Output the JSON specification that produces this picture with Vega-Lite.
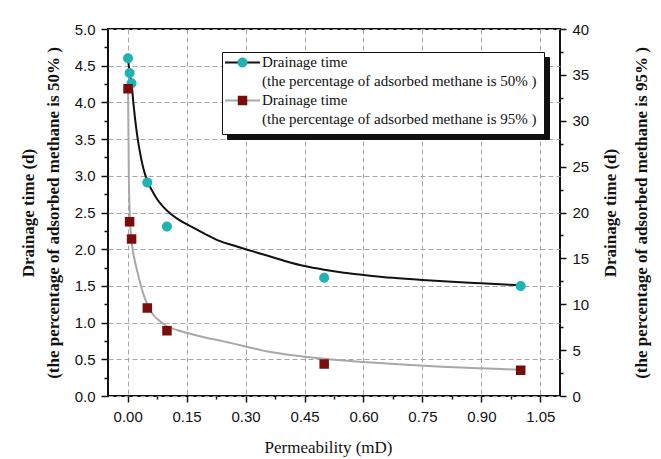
{
  "$schema": "https://vega.github.io/schema/vega-lite/v6.json",
  "width": 452,
  "height": 367,
  "autosize": {"type": "none"},
  "padding": {"left": 108, "top": 29, "right": 101, "bottom": 63},
  "background": "white",
  "config": {
    "view": {"stroke": "#111", "strokeWidth": 2},
    "style": {"guide-label": {"lineHeight": 19}},
    "axis": {
      "domain": false,
      "labelFont": "Liberation Sans",
      "labelFontSize": 15,
      "labelColor": "#111",
      "tickColor": "#111",
      "tickWidth": 1.5,
      "tickCount": 100,
      "titleFont": "Liberation Serif",
      "titleFontWeight": "bold",
      "titleFontSize": 17,
      "titleColor": "#111",
      "gridColor": "#a6a6a6",
      "gridDash": [5, 3],
      "gridWidth": 1,
      "labelOverlap": false
    },
    "legend": {
      "labelFont": "Liberation Serif",
      "labelFontSize": 15,
      "labelColor": "#111",
      "labelLimit": 600,
      "labelBaseline": "alphabetic",
      "labelOffset": 12,
      "symbolOffset": 6,
      "padding": 7,
      "rowPadding": 3,
      "symbolSize": 169,
      "symbolStrokeWidth": 2,
      "direction": "vertical",
      "orient": "none",
      "title": null
    }
  },
  "datasets": {
    "pts50": [
      {"perm": 0.001, "time": 4.6, "series": "s50"},
      {"perm": 0.005, "time": 4.4, "series": "s50"},
      {"perm": 0.01, "time": 4.26, "series": "s50"},
      {"perm": 0.05, "time": 2.91, "series": "s50"},
      {"perm": 0.1, "time": 2.31, "series": "s50"},
      {"perm": 0.5, "time": 1.61, "series": "s50"},
      {"perm": 1.0, "time": 1.5, "series": "s50"}
    ],
    "pts95": [
      {"perm": 0.001, "time": 33.5, "series": "s95"},
      {"perm": 0.005, "time": 19.0, "series": "s95"},
      {"perm": 0.01, "time": 17.1, "series": "s95"},
      {"perm": 0.05, "time": 9.6, "series": "s95"},
      {"perm": 0.1, "time": 7.1, "series": "s95"},
      {"perm": 0.5, "time": 3.5, "series": "s95"},
      {"perm": 1.0, "time": 2.8, "series": "s95"}
    ],
    "curve50": [
      {"perm": 0.001, "time": 4.6, "curve": "c50"},
      {"perm": 0.005, "time": 4.4, "curve": "c50"},
      {"perm": 0.01, "time": 4.26, "curve": "c50"},
      {"perm": 0.015, "time": 3.97, "curve": "c50"},
      {"perm": 0.023, "time": 3.6, "curve": "c50"},
      {"perm": 0.03, "time": 3.36, "curve": "c50"},
      {"perm": 0.04, "time": 3.1, "curve": "c50"},
      {"perm": 0.05, "time": 2.93, "curve": "c50"},
      {"perm": 0.062, "time": 2.8, "curve": "c50"},
      {"perm": 0.075, "time": 2.68, "curve": "c50"},
      {"perm": 0.09, "time": 2.58, "curve": "c50"},
      {"perm": 0.11, "time": 2.48, "curve": "c50"},
      {"perm": 0.125, "time": 2.42, "curve": "c50"},
      {"perm": 0.15, "time": 2.34, "curve": "c50"},
      {"perm": 0.175, "time": 2.27, "curve": "c50"},
      {"perm": 0.2, "time": 2.2, "curve": "c50"},
      {"perm": 0.235, "time": 2.11, "curve": "c50"},
      {"perm": 0.27, "time": 2.05, "curve": "c50"},
      {"perm": 0.3, "time": 2.0, "curve": "c50"},
      {"perm": 0.35, "time": 1.92, "curve": "c50"},
      {"perm": 0.4, "time": 1.84, "curve": "c50"},
      {"perm": 0.45, "time": 1.77, "curve": "c50"},
      {"perm": 0.5, "time": 1.72, "curve": "c50"},
      {"perm": 0.55, "time": 1.68, "curve": "c50"},
      {"perm": 0.6, "time": 1.65, "curve": "c50"},
      {"perm": 0.675, "time": 1.61, "curve": "c50"},
      {"perm": 0.75, "time": 1.58, "curve": "c50"},
      {"perm": 0.825, "time": 1.555, "curve": "c50"},
      {"perm": 0.9, "time": 1.535, "curve": "c50"},
      {"perm": 1.0, "time": 1.51, "curve": "c50"}
    ],
    "curve95": [
      {"perm": 0.001, "time": 33.5, "curve": "c95"},
      {"perm": 0.003, "time": 24.0, "curve": "c95"},
      {"perm": 0.005, "time": 20.3, "curve": "c95"},
      {"perm": 0.008, "time": 17.8, "curve": "c95"},
      {"perm": 0.012, "time": 16.2, "curve": "c95"},
      {"perm": 0.019, "time": 14.6, "curve": "c95"},
      {"perm": 0.025, "time": 13.5, "curve": "c95"},
      {"perm": 0.032, "time": 12.3, "curve": "c95"},
      {"perm": 0.04, "time": 11.1, "curve": "c95"},
      {"perm": 0.049, "time": 10.1, "curve": "c95"},
      {"perm": 0.057, "time": 9.4, "curve": "c95"},
      {"perm": 0.066, "time": 8.8, "curve": "c95"},
      {"perm": 0.078, "time": 8.3, "curve": "c95"},
      {"perm": 0.091, "time": 7.85, "curve": "c95"},
      {"perm": 0.105, "time": 7.5, "curve": "c95"},
      {"perm": 0.125, "time": 7.2, "curve": "c95"},
      {"perm": 0.15, "time": 6.9, "curve": "c95"},
      {"perm": 0.176, "time": 6.6, "curve": "c95"},
      {"perm": 0.2, "time": 6.35, "curve": "c95"},
      {"perm": 0.235, "time": 6.05, "curve": "c95"},
      {"perm": 0.26, "time": 5.8, "curve": "c95"},
      {"perm": 0.3, "time": 5.4, "curve": "c95"},
      {"perm": 0.35, "time": 4.9, "curve": "c95"},
      {"perm": 0.4, "time": 4.55, "curve": "c95"},
      {"perm": 0.45, "time": 4.28, "curve": "c95"},
      {"perm": 0.5, "time": 4.05, "curve": "c95"},
      {"perm": 0.6, "time": 3.7, "curve": "c95"},
      {"perm": 0.7, "time": 3.42, "curve": "c95"},
      {"perm": 0.8, "time": 3.2, "curve": "c95"},
      {"perm": 0.9, "time": 3.02, "curve": "c95"},
      {"perm": 1.0, "time": 2.85, "curve": "c95"}
    ]
  },
  "encoding": {
    "x": {
      "field": "perm",
      "type": "quantitative",
      "scale": {"domain": [-0.05, 1.1], "nice": false, "zero": false},
      "axis": {
        "values": [0, 0.075, 0.15, 0.225, 0.3, 0.375, 0.45, 0.525, 0.6, 0.675, 0.75, 0.825, 0.9, 0.975, 1.05],
        "tickCount": 100,
        "labelExpr": "abs(datum.value / 0.15 - round(datum.value / 0.15)) < 0.01 ? format(datum.value, '.2f') : ''",
        "tickSize": {"condition": {"test": "abs(datum.value / 0.15 - round(datum.value / 0.15)) < 0.01", "value": 6}, "value": 3},
        "gridOpacity": {"condition": {"test": "abs(datum.value / 0.15 - round(datum.value / 0.15)) < 0.01", "value": 1}, "value": 0},
        "labelPadding": 7,
        "title": "Permeability (mD)",
        "titleFontWeight": "normal",
        "titleFontSize": 17,
        "titleX": 220,
        "titleY": 56,
        "titleAlign": "center",
        "titleBaseline": "alphabetic"
      }
    }
  },
  "layer": [
    {
      "layer": [
        {
          "data": {"name": "curve50"},
          "mark": {"type": "line", "strokeWidth": 2, "interpolate": "monotone"},
          "encoding": {
            "y": {
              "field": "time",
              "type": "quantitative",
              "scale": {"domain": [0, 5], "nice": false, "zero": true},
              "axis": {
                "orient": "left",
                "values": [0, 0.25, 0.5, 0.75, 1, 1.25, 1.5, 1.75, 2, 2.25, 2.5, 2.75, 3, 3.25, 3.5, 3.75, 4, 4.25, 4.5, 4.75, 5],
                "tickCount": 100,
                "labelExpr": "abs(datum.value * 2 - round(datum.value * 2)) < 0.01 ? format(datum.value, '.1f') : ''",
                "tickSize": {"condition": {"test": "abs(datum.value * 2 - round(datum.value * 2)) < 0.01", "value": 7}, "value": 4},
                "gridOpacity": {"condition": {"test": "abs(datum.value * 2 - round(datum.value * 2)) < 0.01", "value": 1}, "value": 0},
                "labelPadding": 6,
                "title": ["Drainage time  (d)", "(the percentage of adsorbed methane is 50% )"],
                "titleAngle": 270,
                "titleAlign": "center",
                "titleBaseline": "bottom",
                "titleLineHeight": 25,
                "titleX": -71,
                "titleY": 183.5
              }
            },
            "stroke": {
              "field": "curve",
              "type": "nominal",
              "scale": {"domain": ["c50", "c95"], "range": ["#111111", "#a8a8a8"]},
              "legend": {
                "legendX": 114,
                "legendY": 23,
                "symbolType": "M-2.69,-0.6L2.69,-0.6",
                "fillColor": "white",
                "strokeColor": "#111",
                "zindex": 2,
                "labelExpr": "indexof(datum.value, '50') >= 0 ? [' Drainage time', '(the percentage of adsorbed methane is 50% )'] : [' Drainage time', '(the percentage of adsorbed methane is 95% )']"
              }
            }
          }
        },
        {
          "data": {"name": "pts50"},
          "mark": {"type": "point", "filled": true, "size": 169, "strokeWidth": 0, "opacity": 1},
          "encoding": {
            "y": {"field": "time", "type": "quantitative", "scale": {"domain": [0, 5], "nice": false, "zero": true}},
            "fill": {
              "field": "series",
              "type": "nominal",
              "scale": {"domain": ["s50", "s95"], "range": ["#21b3b3", "#7b0c0c"]},
              "legend": {
                "legendX": 114,
                "legendY": 19,
                "labelColor": "transparent",
                "symbolStrokeColor": "transparent",
                "zindex": 3,
                "labelExpr": "indexof(datum.value, '50') >= 0 ? [' Drainage time', '(the percentage of adsorbed methane is 50% )'] : [' Drainage time', '(the percentage of adsorbed methane is 95% )']"
              }
            },
            "shape": {
              "field": "series",
              "type": "nominal",
              "scale": {
                "domain": ["s50", "s95"],
                "range": [
                  "M-2.69,0L-2.69,0M2.69,0L2.69,0M-0.769,0A0.769,0.769,0,1,0,0.769,0A0.769,0.769,0,1,0,-0.769,0Z",
                  "M-2.69,0L-2.69,0M2.69,0L2.69,0M-0.731,-0.731L0.731,-0.731L0.731,0.731L-0.731,0.731Z"
                ]
              },
              "legend": {
                "legendX": 114,
                "legendY": 19,
                "labelColor": "transparent",
                "symbolStrokeColor": "transparent",
                "zindex": 3,
                "labelExpr": "indexof(datum.value, '50') >= 0 ? [' Drainage time', '(the percentage of adsorbed methane is 50% )'] : [' Drainage time', '(the percentage of adsorbed methane is 95% )']"
              }
            },
            "opacity": {
              "field": "series",
              "type": "nominal",
              "scale": {"domain": ["s95", "s50"], "range": [1, 1]},
              "legend": {
                "legendX": 119,
                "legendY": 28,
                "labelColor": "transparent",
                "symbolType": "M-2.69,-0.6L2.69,-0.6",
                "symbolStrokeColor": "#111",
                "symbolFillColor": "#111",
                "fillColor": "#111",
                "strokeColor": "#111",
                "zindex": 1,
                "labelExpr": "indexof(datum.value, '50') >= 0 ? [' Drainage time', '(the percentage of adsorbed methane is 50% )'] : [' Drainage time', '(the percentage of adsorbed methane is 95% )']"
              }
            }
          }
        }
      ]
    },
    {
      "layer": [
        {
          "data": {"name": "curve95"},
          "mark": {"type": "line", "strokeWidth": 2, "interpolate": "monotone"},
          "encoding": {
            "y": {
              "field": "time",
              "type": "quantitative",
              "scale": {"domain": [0, 40], "nice": false, "zero": true},
              "axis": {
                "orient": "right",
                "grid": false,
                "values": [0, 2.5, 5, 7.5, 10, 12.5, 15, 17.5, 20, 22.5, 25, 27.5, 30, 32.5, 35, 37.5, 40],
                "tickCount": 100,
                "labelExpr": "datum.value % 5 == 0 ? format(datum.value, 'd') : ''",
                "tickSize": {"condition": {"test": "datum.value % 5 == 0", "value": 6}, "value": 3},
                "labelPadding": 6,
                "title": ["Drainage time  (d)", "(the percentage of adsorbed methane is 95% )"],
                "titleAngle": 270,
                "titleAlign": "center",
                "titleBaseline": "top",
                "titleLineHeight": 31,
                "titleX": 42,
                "titleY": 183.5
              }
            },
            "stroke": {
              "field": "curve",
              "type": "nominal",
              "scale": {"domain": ["c50", "c95"], "range": ["#111111", "#a8a8a8"]}
            }
          }
        },
        {
          "data": {"name": "pts95"},
          "mark": {"type": "point", "filled": true, "size": 169, "strokeWidth": 0, "opacity": 1},
          "encoding": {
            "y": {"field": "time", "type": "quantitative", "scale": {"domain": [0, 40], "nice": false, "zero": true}},
            "fill": {
              "field": "series",
              "type": "nominal",
              "scale": {"domain": ["s50", "s95"], "range": ["#21b3b3", "#7b0c0c"]}
            },
            "shape": {
              "field": "series",
              "type": "nominal",
              "scale": {
                "domain": ["s50", "s95"],
                "range": [
                  "M-2.69,0L-2.69,0M2.69,0L2.69,0M-0.769,0A0.769,0.769,0,1,0,0.769,0A0.769,0.769,0,1,0,-0.769,0Z",
                  "M-2.69,0L-2.69,0M2.69,0L2.69,0M-0.731,-0.731L0.731,-0.731L0.731,0.731L-0.731,0.731Z"
                ]
              }
            },
            "opacity": {
              "field": "series",
              "type": "nominal",
              "scale": {"domain": ["s95", "s50"], "range": [1, 1]}
            }
          }
        }
      ]
    }
  ],
  "resolve": {"scale": {"y": "independent"}}
}
